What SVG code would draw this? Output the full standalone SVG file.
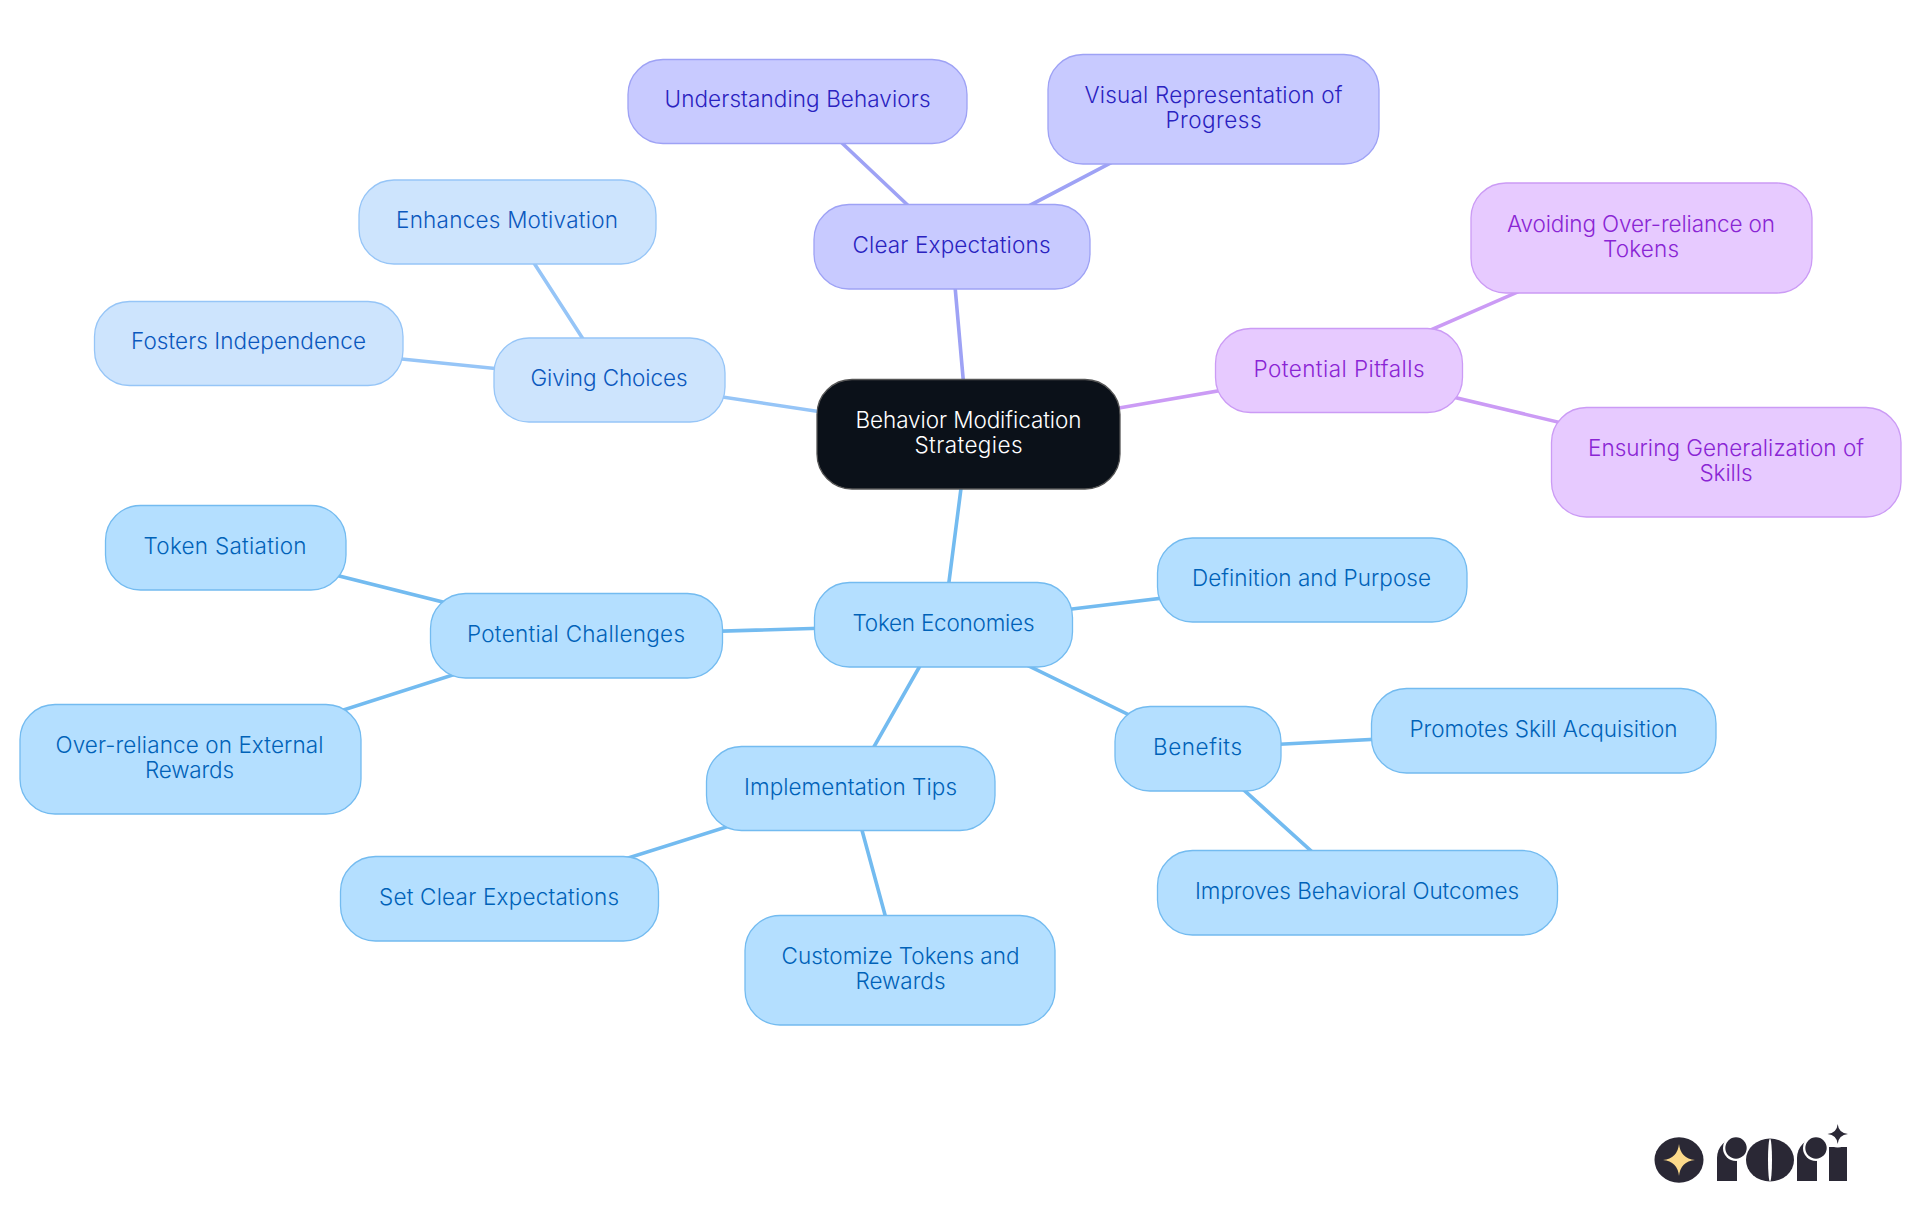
<svg xmlns="http://www.w3.org/2000/svg" width="1920" height="1215" viewBox="0 0 1920 1215">
<style>
text{font-family:"Inter","Noto Sans","Liberation Sans",sans-serif;font-size:22.5px;font-weight:300;text-anchor:middle}
.e{fill:none;stroke-width:3.6;stroke-linecap:round}
.n{stroke-width:1.3}
.b .n{fill:#b4dfff;stroke:#73bbf0}.b text{fill:#0062b8}
.eb{stroke:#73bbf0}
.p .n{fill:#cde4fd;stroke:#96c5f7}.p text{fill:#0b58bd}
.ep{stroke:#96c5f7}
.i .n{fill:#c8caff;stroke:#9ea2f5}.i text{fill:#2a22c0}
.ei{stroke:#9ea2f5}
.v .n{fill:#e7caff;stroke:#cb9bf5}.v text{fill:#8a25d4}
.ev{stroke:#cb9bf5}
.d{fill:#2a2835}.w{fill:#fff}
</style>
<rect width="1920" height="1215" fill="#fff"/>
<g id="connectors">
<line class="e ei" x1="968" y1="434" x2="951.500" y2="246.500"/>
<line class="e ei" x1="951.500" y1="246.500" x2="797.500" y2="101"/>
<line class="e ei" x1="951.500" y1="246.500" x2="1213.500" y2="109"/>
<line class="e ep" x1="968" y1="434" x2="609.500" y2="380"/>
<line class="e ep" x1="609.500" y1="380" x2="507.500" y2="222"/>
<line class="e ep" x1="609.500" y1="380" x2="248.500" y2="343.500"/>
<line class="e ev" x1="968" y1="434" x2="1339" y2="370"/>
<line class="e ev" x1="1339" y1="370" x2="1641.500" y2="238"/>
<line class="e ev" x1="1339" y1="370" x2="1726" y2="462"/>
<line class="e eb" x1="968" y1="434" x2="943.500" y2="624.500"/>
<line class="e eb" x1="943.500" y1="624.500" x2="1312" y2="580"/>
<line class="e eb" x1="943.500" y1="624.500" x2="576" y2="635.500"/>
<line class="e eb" x1="576" y1="635.500" x2="225.500" y2="547.500"/>
<line class="e eb" x1="576" y1="635.500" x2="190.500" y2="759"/>
<line class="e eb" x1="943.500" y1="624.500" x2="850.500" y2="788"/>
<line class="e eb" x1="850.500" y1="788" x2="499.500" y2="898.500"/>
<line class="e eb" x1="850.500" y1="788" x2="900" y2="970"/>
<line class="e eb" x1="943.500" y1="624.500" x2="1198" y2="748.500"/>
<line class="e eb" x1="1198" y1="748.500" x2="1543.500" y2="730.500"/>
<line class="e eb" x1="1198" y1="748.500" x2="1357" y2="892.500"/>
</g>
<g id="root"><rect x="817" y="379.500" width="303" height="109.500" rx="35" fill="#0b1119" stroke="#555" stroke-width="1.3"/><text fill="#fff" x="968.500" y="428" textLength="226">Behavior Modification</text><text fill="#fff" x="968.500" y="453" textLength="108">Strategies</text></g>
<g id="clear-expectations" class="i"><rect class="n" x="814" y="204.500" width="276" height="84.500" rx="35"/><text x="951.500" y="253" textLength="198">Clear Expectations</text></g>
<g id="understanding-behaviors" class="i"><rect class="n" x="628" y="59.500" width="339" height="84" rx="35"/><text x="797.500" y="107" textLength="266">Understanding Behaviors</text></g>
<g id="visual-representation" class="i"><rect class="n" x="1048" y="54.500" width="331" height="109.500" rx="35"/><text x="1213.500" y="103" textLength="258">Visual Representation of</text><text x="1213.500" y="128" textLength="96">Progress</text></g>
<g id="giving-choices" class="p"><rect class="n" x="494" y="338" width="231" height="84" rx="35"/><text x="609" y="386" textLength="157">Giving Choices</text></g>
<g id="enhances-motivation" class="p"><rect class="n" x="359" y="180" width="297" height="84" rx="35"/><text x="507" y="228" textLength="222">Enhances Motivation</text></g>
<g id="fosters-independence" class="p"><rect class="n" x="94.500" y="301.500" width="308.500" height="84" rx="35"/><text x="248.500" y="349" textLength="235">Fosters Independence</text></g>
<g id="potential-pitfalls" class="v"><rect class="n" x="1215.500" y="328.500" width="247" height="84" rx="35"/><text x="1339" y="377" textLength="171">Potential Pitfalls</text></g>
<g id="avoiding-over-reliance" class="v"><rect class="n" x="1471" y="183" width="341" height="110" rx="35"/><text x="1641" y="232" textLength="268">Avoiding Over-reliance on</text><text x="1641" y="257" textLength="76">Tokens</text></g>
<g id="ensuring-generalization" class="v"><rect class="n" x="1551.500" y="407.500" width="349.500" height="109.500" rx="35"/><text x="1726" y="456" textLength="276">Ensuring Generalization of</text><text x="1726" y="481" textLength="53">Skills</text></g>
<g id="token-economies" class="b"><rect class="n" x="814.500" y="582.500" width="258" height="84.500" rx="35"/><text x="943.500" y="631" textLength="182">Token Economies</text></g>
<g id="definition-purpose" class="b"><rect class="n" x="1157.500" y="538" width="309.500" height="84" rx="35"/><text x="1311.500" y="586" textLength="239">Definition and Purpose</text></g>
<g id="potential-challenges" class="b"><rect class="n" x="430.500" y="593.500" width="292" height="84.500" rx="35"/><text x="576" y="642" textLength="218">Potential Challenges</text></g>
<g id="token-satiation" class="b"><rect class="n" x="105.500" y="505.500" width="240.500" height="84.500" rx="35"/><text x="225" y="554" textLength="163">Token Satiation</text></g>
<g id="over-reliance-external" class="b"><rect class="n" x="20" y="704.500" width="341" height="109.500" rx="35"/><text x="189.500" y="753" textLength="268">Over-reliance on External</text><text x="189.500" y="778" textLength="89">Rewards</text></g>
<g id="implementation-tips" class="b"><rect class="n" x="706.500" y="746.500" width="288.500" height="84" rx="35"/><text x="850.500" y="794.500" textLength="213">Implementation Tips</text></g>
<g id="set-clear-expectations" class="b"><rect class="n" x="340.500" y="856.500" width="318" height="84.500" rx="35"/><text x="499" y="905" textLength="240">Set Clear Expectations</text></g>
<g id="customize-tokens" class="b"><rect class="n" x="745" y="915.500" width="310" height="109.500" rx="35"/><text x="900.500" y="964" textLength="238">Customize Tokens and</text><text x="900.500" y="989" textLength="90">Rewards</text></g>
<g id="benefits" class="b"><rect class="n" x="1115" y="706.500" width="166" height="84.500" rx="35"/><text x="1197.500" y="755" textLength="89">Benefits</text></g>
<g id="promotes-skill" class="b"><rect class="n" x="1371.500" y="688.500" width="344.500" height="84.500" rx="35"/><text x="1543.500" y="737" textLength="268">Promotes Skill Acquisition</text></g>
<g id="improves-outcomes" class="b"><rect class="n" x="1157.500" y="850.500" width="400" height="84.500" rx="35"/><text x="1357" y="899" textLength="324">Improves Behavioral Outcomes</text></g>
<g id="logo">
<ellipse class="d" cx="1679" cy="1160" rx="24.500" ry="22.700"/>
<path fill="#fbd98a" d="M1679 1144Q1680.500 1158.500 1695 1160Q1680.500 1161.500 1679 1176Q1677.500 1161.500 1663 1160Q1677.500 1158.500 1679 1144Z"/>
<circle class="d" cx="1737" cy="1158" r="20"/><rect class="d" x="1717" y="1158" width="20" height="23"/><rect class="w" x="1737" y="1136" width="21" height="46"/><circle class="w" cx="1736" cy="1148" r="13"/><circle class="d" cx="1736" cy="1148" r="10.700"/>
<ellipse class="d" cx="1770" cy="1160" rx="24" ry="21.500"/><ellipse class="w" cx="1770" cy="1160" rx="2" ry="21.500"/>
<circle class="d" cx="1817" cy="1158" r="20"/><rect class="d" x="1797" y="1158" width="20" height="23"/><rect class="w" x="1817" y="1136" width="21" height="46"/><circle class="w" cx="1816" cy="1148" r="13"/><circle class="d" cx="1816" cy="1148" r="10.700"/>
<rect class="d" x="1829" y="1147" width="18" height="34"/><circle class="w" cx="1837.700" cy="1134" r="13.500"/>
<path class="d" d="M1837.700 1124Q1838.500 1133 1848 1134Q1838.500 1135 1837.700 1144Q1836.900 1135 1827.500 1134Q1836.900 1133 1837.700 1124Z"/>
</g>
</svg>
